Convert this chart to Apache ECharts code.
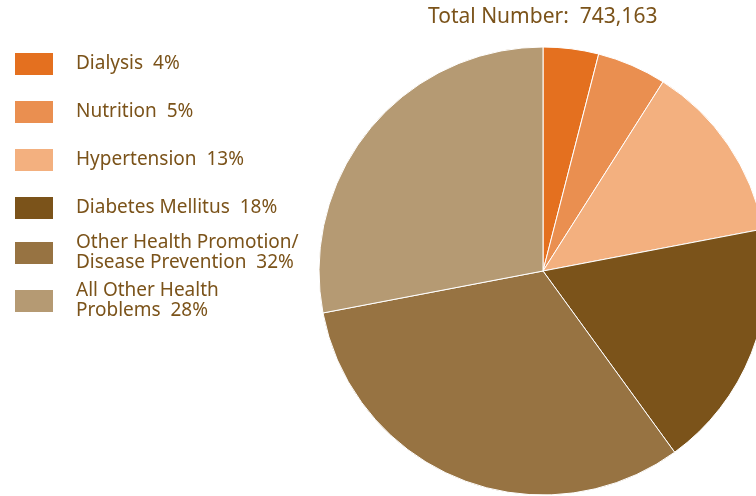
<!DOCTYPE html>
<html>
<head>
<meta charset="utf-8">
<script src="https://cdn.jsdelivr.net/npm/echarts@6/dist/echarts.min.js"></script>
<style>
  html, body { margin: 0; padding: 0; background: #fff; }
  #main { width: 756px; height: 496px; }
</style>
</head>
<body>
<div id="main"></div>
<script>
// data
var categories = ['Dialysis', 'Nutrition', 'Hypertension', 'Diabetes Mellitus',
  'Other Health Promotion/\nDisease Prevention', 'All Other Health\nProblems'];
var shares = [4, 5, 13, 18, 32, 28];
var totalNumber = '743,163';

var colors = ['#E4701F', '#EA8F50', '#F3B07F', '#7B531A', '#977342', '#B59A73'];
var textColor = '#7B531A';
var font = 'Noto Sans';

var chart = echarts.init(document.getElementById('main'));

var pieData = categories.map(function (c, i) {
  return { name: c, value: shares[i], itemStyle: { color: colors[i] } };
});

// one legend per item so every row keeps the same pitch
var legends = categories.map(function (c, i) {
  var lines = c.split('\n').length;
  return {
    orient: 'vertical',
    left: 13,
    top: 51 + 48 * i - (lines - 1) * 10,
    padding: 0,
    itemWidth: 40,
    itemHeight: 24,
    itemGap: 0,
    icon: 'rect',
    selectedMode: false,
    data: [c],
    formatter: function (name) {
      return name + '  ' + shares[categories.indexOf(name)] + '%';
    },
    textStyle: {
      color: textColor,
      fontFamily: font,
      fontSize: 19,
      lineHeight: 20,
      padding: [0, 0, 0, 17]
    }
  };
});

var option = {
  animation: false,
  title: {
    text: 'Total Number:  ' + totalNumber,
    left: 428,
    top: 7,
    padding: 0,
    textStyle: { color: textColor, fontFamily: font, fontSize: 21, fontWeight: 'normal' }
  },
  legend: legends,
  series: [{
    type: 'pie',
    center: [543, 271],
    radius: 224,
    startAngle: 90,
    clockwise: true,
    silent: true,
    label: { show: false },
    labelLine: { show: false },
    itemStyle: { borderColor: '#fff', borderWidth: 1 },
    data: pieData
  }]
};

chart.setOption(option);
</script>
</body>
</html>
